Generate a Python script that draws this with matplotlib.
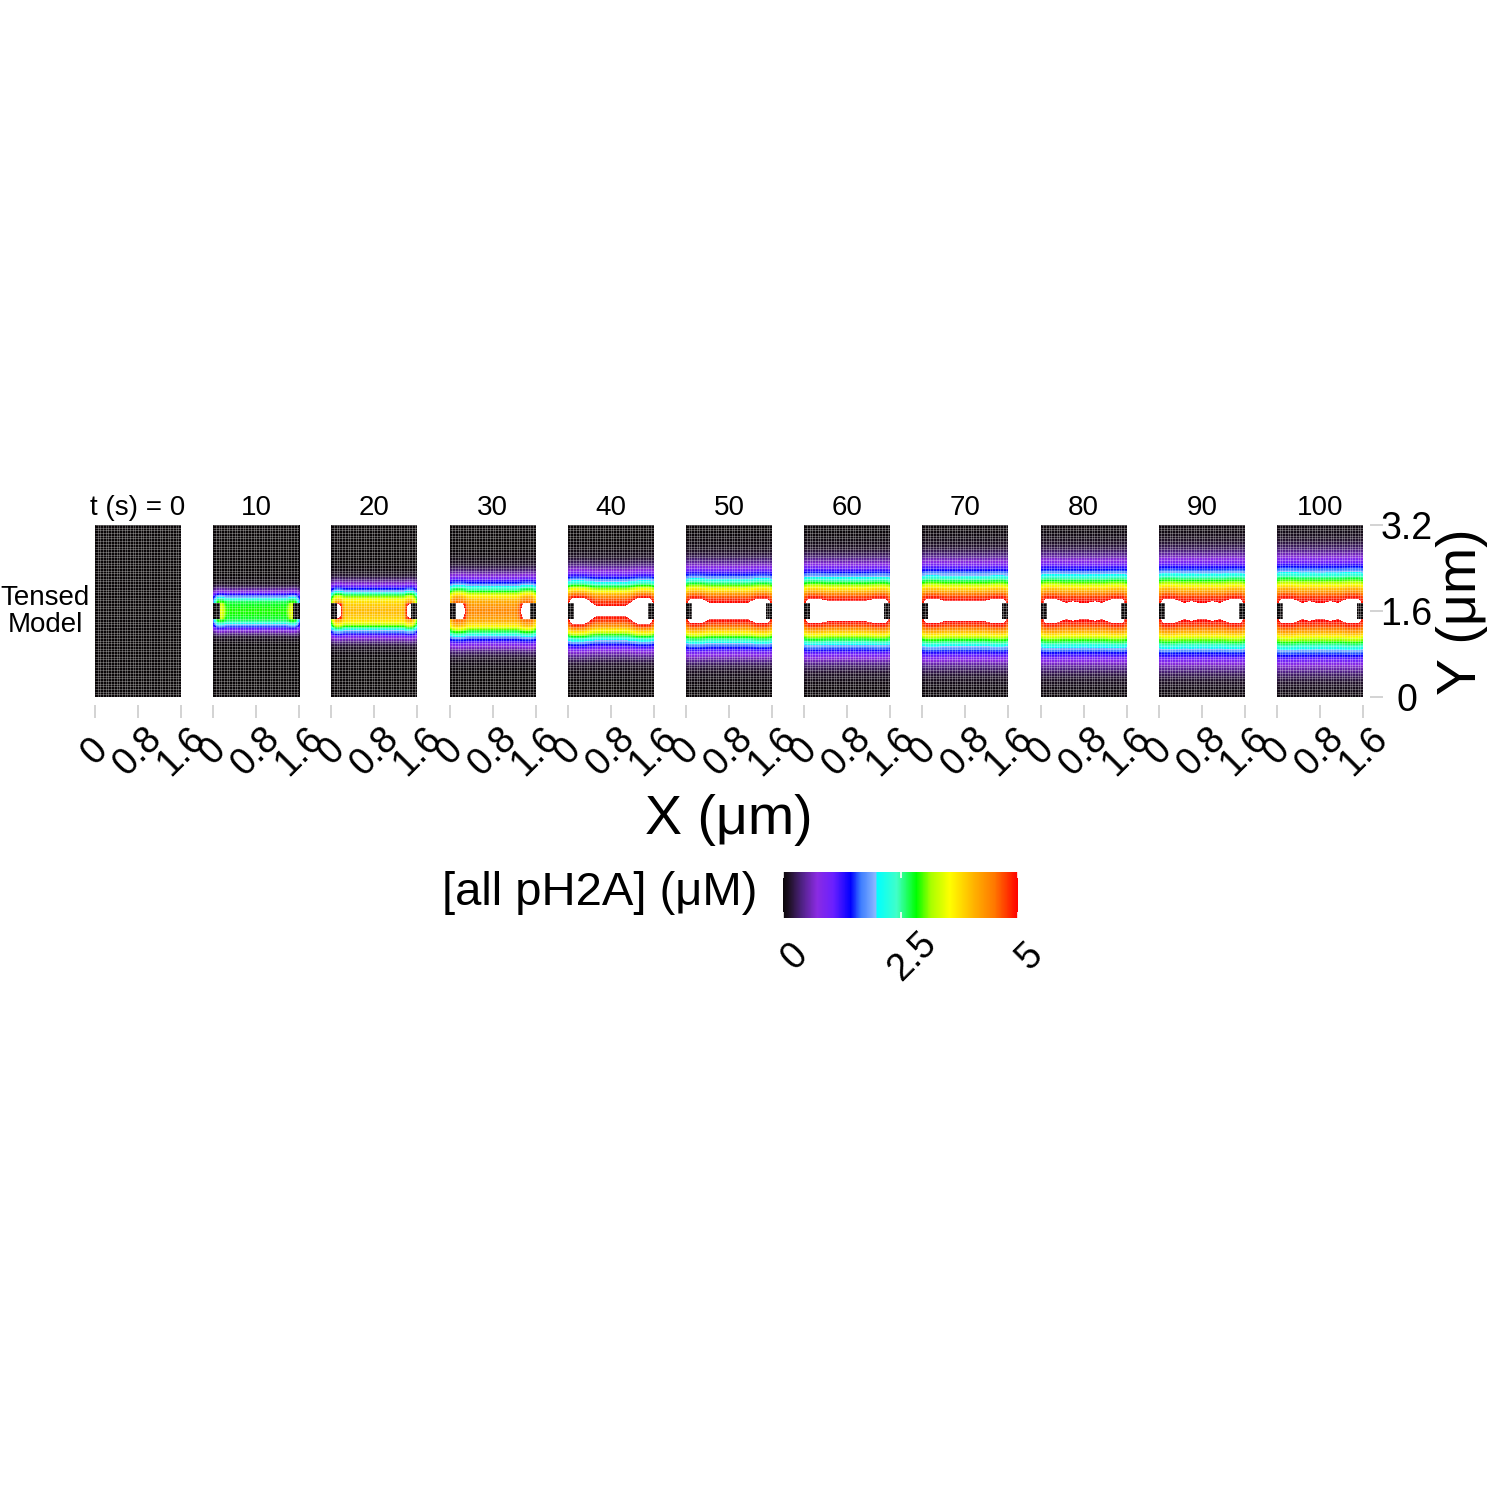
import numpy as np
import matplotlib
matplotlib.use('Agg')
import matplotlib.pyplot as plt
import matplotlib.transforms as mtransforms
from matplotlib.colors import LinearSegmentedColormap, Normalize
from matplotlib.cm import ScalarMappable

plt.rcParams['font.family'] = ['Liberation Sans', 'DejaVu Sans']

# ---------------------------------------------------------------------------
# values
times        = [0, 10, 20, 30, 40, 50, 60, 70, 80, 90, 100]
edge_conc    = [0.0, 2.7, 3.8, 4.15, 4.8, 4.97, 5.05, 5.03, 4.99, 4.99, 4.99]   # uM at strip edge
core_gain    = [0.0, 0.07, 0.05, 0.05, 0.065, 0.1, 0.1, 0.1, 0.1, 0.1, 0.1]     # rise to strip centre
spread       = [0.1, 0.19, 0.27, 0.37, 0.42, 0.47, 0.50, 0.53, 0.55, 0.57, 0.59]  # um, decay off strip
end_gain_in  = [0.0, 0.2, 0.3, 0.24, 0.18, 0.2, 0.2, 0.2, 0.2, 0.2, 0.2]
end_gain_out = [0.0, 0.1, 0.1, 0.1, 0.12, 0.05, 0.03, 0.03, 0.03, 0.03, 0.03]
end_width    = [0.1, 0.1, 0.1, 0.18, 0.3, 0.25, 0.25, 0.25, 0.25, 0.25, 0.25]
mid_gain     = [0.0, 0.0, 0.0, 0.0, 0.0, 0.0, 0.0, 0.004, 0.006, 0.006, 0.006]
mid_pos      = [0.6, 1.0]

# colour scale of the [all pH2A] bar
cbar_vals = [0, 0.15, 0.4, 0.72, 1.07, 1.44, 1.65, 1.97, 2.0, 2.42, 2.84, 3.15, 3.55, 4.05, 4.5, 5.0]
cbar_cols = ['#0a0608', '#22122c', '#4f2284', '#8a2be2', '#6a20ff', '#0000ff', '#3c7cff', '#8cb8ff',
             '#00ffff', '#40ffc8', '#00ff00', '#a8ff00', '#ffff00', '#ffb400', '#ff7800', '#ff0000']
cbar_ticks = [0, 2.5, 5]
x_ticks = [0, 0.8, 1.6]
y_ticks = [0, 1.6, 3.2]

# geometry of the chromatin strip (um)
LX, LY = 1.6, 3.2
X0, X1 = 0.12, 1.48
YC, HS = 1.6, 0.15
TAIL = 1.8   # shape exponent of the decay off the strip


# ---------------------------------------------------------------------------
def make_cmap():
    stops = [(v / cbar_vals[-1], c) for v, c in zip(cbar_vals, cbar_cols)]
    cm = LinearSegmentedColormap.from_list('ph2a', stops, N=512)
    cm.set_over('white')
    return cm


def field(i, n=0.01):
    x = np.arange(n / 2, LX, n)
    y = np.arange(n / 2, LY, n)
    xx, yy = np.meshgrid(x, y)
    dy = np.abs(yy - YC)
    dxr = np.maximum(X0 - xx, 0) + np.maximum(xx - X1, 0)
    dyr = np.maximum(dy - HS, 0)
    D = np.hypot(dxr, dyr)

    we = end_width[i]
    ends = np.exp(-((xx - X0) / we) ** 4) + np.exp(-((X1 - xx) / we) ** 4)
    mids = sum(np.exp(-((xx - m) / 0.1) ** 2) for m in mid_pos)

    E = edge_conc[i]
    inside = E * (1 + end_gain_in[i] * ends) * (1 + core_gain[i] * (1 - (dy / HS) ** 2))
    outside = E * (1 + end_gain_out[i] * ends + mid_gain[i] * mids) * np.exp(-(D / spread[i]) ** TAIL)

    in_strip = dy < HS
    v = np.where(in_strip, inside, outside)
    v[in_strip & ((xx < X0) | (xx > X1))] = 0.0
    return v


# ---------------------------------------------------------------------------
def main():
    cmap = make_cmap()
    norm = Normalize(0, 5)
    W = 1500.0
    fig = plt.figure(figsize=(15, 15), dpi=100)

    left0, step, pw = 95, 118.2, 86
    top, bot = 525, 697
    grid = np.arange(0.05, LX, 0.05), np.arange(0.05, LY, 0.05)

    for i, t in enumerate(times):
        ax = fig.add_axes([(left0 + step * i) / W, 1 - bot / W, pw / W, (bot - top) / W])
        ax.imshow(field(i), extent=[0, LX, 0, LY], origin='lower', cmap=cmap, norm=norm,
                  interpolation='nearest', aspect='auto')
        ax.vlines(grid[0], 0, LY, colors='white', alpha=0.28, lw=0.75)
        ax.hlines(grid[1], 0, LX, colors='white', alpha=0.28, lw=0.75)
        ax.set_xlim(0, LX)
        ax.set_ylim(0, LY)
        for s in ax.spines.values():
            s.set_visible(False)
        ax.spines['bottom'].set_position(('outward', 5.8))
        ax.set_xticks(x_ticks)
        ax.set_xticklabels([f'{v:g}' for v in x_ticks])
        ax.tick_params(axis='x', length=9.4, width=1.1, color='#c8c8c8',
                       labelsize=27, pad=24, labelrotation=45)
        for lab in ax.get_xticklabels():
            lab.set_ha('center')
            lab.set_va('center')
        ax.set_title(f't (s) = {t}' if i == 0 else f'{t}', fontsize=20, pad=7)

        if i == len(times) - 1:
            ax.yaxis.tick_right()
            ax.spines['right'].set_position(('outward', 5))
            ax.set_yticks(y_ticks)
            ax.set_yticklabels([f'{v:g}' for v in y_ticks])
            ax.tick_params(axis='y', length=9.4, width=1.1, color='#c8c8c8',
                           labelsize=27, pad=17)
            for lab in ax.get_yticklabels():
                lab.set_ha('center')
        else:
            ax.set_yticks([])

    fig.text(90 / W, 1 - 612 / W, 'Tensed\nModel', fontsize=20, ha='right', va='center',
             multialignment='center', linespacing=1.05)
    fig.text(729 / W, 1 - 820 / W, 'X (μm)', fontsize=40, ha='center', va='center')
    fig.text(1462 / W, 1 - 612 / W, 'Y (μm)', fontsize=40, ha='center', va='center',
             rotation=90)

    # colour bar
    cax = fig.add_axes([783 / W, 1 - 918 / W, 235 / W, 46 / W])
    cb = fig.colorbar(ScalarMappable(norm=norm, cmap=cmap), cax=cax, orientation='horizontal')
    cb.outline.set_visible(False)
    cb.set_ticks(cbar_ticks)
    cb.set_ticklabels([f'{v:g}' for v in cbar_ticks])
    cax.tick_params(axis='x', direction='in', length=4, width=1.2, color='white',
                    labelsize=27, pad=28, labelrotation=45, top=True)
    shift = mtransforms.ScaledTranslation(12 / 100, 0, fig.dpi_scale_trans)
    for lab in cax.get_xticklabels():
        lab.set_ha('center')
        lab.set_va('center')
        lab.set_transform(lab.get_transform() + shift)
    fig.text(757 / W, 1 - 893 / W, '[all pH2A] (μM)', fontsize=34, ha='right', va='center')

    fig.savefig('out.png', dpi=100)
    plt.close(fig)


if __name__ == '__main__':
    main()
